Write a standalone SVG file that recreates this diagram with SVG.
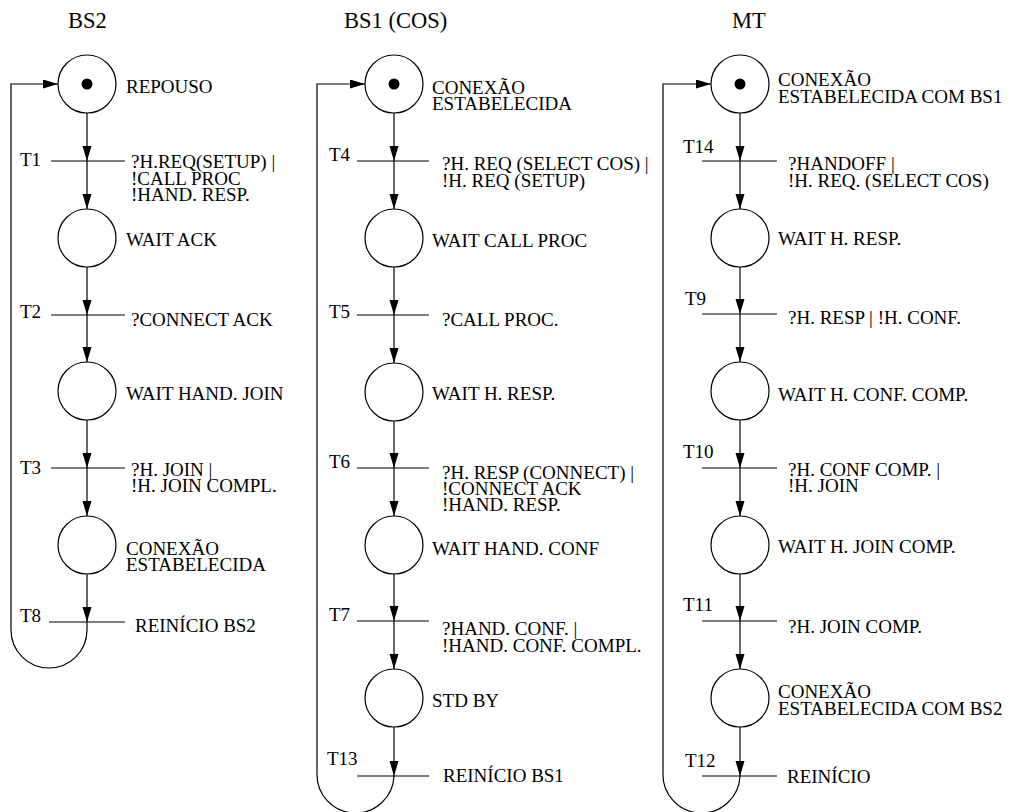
<svg xmlns="http://www.w3.org/2000/svg" width="1010" height="812" viewBox="0 0 1010 812">
  <defs>
    <marker id="arrow" markerUnits="userSpaceOnUse" markerWidth="16" markerHeight="10" refX="15" refY="4.5" orient="auto">
      <path d="M0,0 L15,4.5 L0,9 z" fill="#000"/>
    </marker>
  </defs>
  <style>
    text { font-family: "Liberation Serif", "Times New Roman", serif; font-size: 19px; fill: #000; }
    .title { font-size: 22.5px; }
    .place { fill: #fff; stroke: #000; stroke-width: 1.2; }
    .token { fill: #000; }
    .trans { stroke: #000; stroke-width: 1.1; }
    .arc { fill: none; stroke: #000; stroke-width: 1.2; marker-end: url(#arrow); }
    .loop { fill: none; stroke: #000; stroke-width: 1.2; }
  </style>
  <rect width="1010" height="812" fill="#fff"/>

  <!-- column titles -->
  <g id="titles">
    <text class="title" x="68" y="28">BS2</text>
    <text class="title" x="344" y="28">BS1 (COS)</text>
    <text class="title" x="732" y="28">MT</text>
  </g>

  <!-- connectors: arcs between places and transitions, plus return loops -->
  <g id="connectors">
    <!-- BS2 -->
    <path class="arc" d="M87,113 V161"/>
    <path class="arc" d="M87,161 V209"/>
    <path class="arc" d="M87,267 V315"/>
    <path class="arc" d="M87,315 V362"/>
    <path class="arc" d="M87,420 V468"/>
    <path class="arc" d="M87,468 V516"/>
    <path class="arc" d="M87,574 V622"/>
    <path class="arc" d="M87,622 V630 A38,38 0 0 1 11,630 V84 H58"/>
    <!-- BS1 (COS) -->
    <path class="arc" d="M394,113 V161"/>
    <path class="arc" d="M394,161 V209"/>
    <path class="arc" d="M394,267 V315"/>
    <path class="arc" d="M394,315 V363"/>
    <path class="arc" d="M394,421 V468"/>
    <path class="arc" d="M394,468 V516"/>
    <path class="arc" d="M394,574 V621"/>
    <path class="arc" d="M394,621 V669"/>
    <path class="arc" d="M394,727 V776"/>
    <path class="arc" d="M394,776 A38.5,38.5 0 0 1 317,773 V84 H365"/>
    <!-- MT -->
    <path class="arc" d="M740,113 V161"/>
    <path class="arc" d="M740,161 V209"/>
    <path class="arc" d="M740,267 V314"/>
    <path class="arc" d="M740,314 V362"/>
    <path class="arc" d="M740,420 V468"/>
    <path class="arc" d="M740,468 V516"/>
    <path class="arc" d="M740,574 V621"/>
    <path class="arc" d="M740,621 V669"/>
    <path class="arc" d="M740,727 V776"/>
    <path class="arc" d="M740,776 A38.5,38.5 0 0 1 663,773 V84 H711"/>
  </g>

  <!-- BS2 places -->
  <g id="bs2-repouso">
    <circle class="place" cx="87" cy="84" r="29"/>
    <circle class="token" cx="87" cy="84" r="5.5"/>
    <text x="126" y="93">REPOUSO</text>
  </g>
  <g id="bs2-wait-ack">
    <circle class="place" cx="87" cy="238" r="29"/>
    <text x="126" y="246">WAIT ACK</text>
  </g>
  <g id="bs2-wait-hand-join">
    <circle class="place" cx="87" cy="391" r="29"/>
    <text x="126" y="400">WAIT HAND. JOIN</text>
  </g>
  <g id="bs2-conexao">
    <circle class="place" cx="87" cy="545" r="29"/>
    <text x="126" y="555">CONEXÃO</text>
    <text x="126" y="571">ESTABELECIDA</text>
  </g>

  <!-- BS2 transitions -->
  <g id="bs2-t1">
    <line class="trans" x1="51" y1="161" x2="125" y2="161"/>
    <text x="20" y="166">T1</text>
    <text x="131" y="168">?H.REQ(SETUP) |</text>
    <text x="131" y="184.5">!CALL PROC</text>
    <text x="131" y="201">!HAND. RESP.</text>
  </g>
  <g id="bs2-t2">
    <line class="trans" x1="51" y1="315" x2="125" y2="315"/>
    <text x="20" y="318">T2</text>
    <text x="131" y="326">?CONNECT ACK</text>
  </g>
  <g id="bs2-t3">
    <line class="trans" x1="51" y1="468" x2="125" y2="468"/>
    <text x="20" y="474">T3</text>
    <text x="131" y="476">?H. JOIN |</text>
    <text x="131" y="492">!H. JOIN COMPL.</text>
  </g>
  <g id="bs2-t8">
    <line class="trans" x1="49" y1="622" x2="125" y2="622"/>
    <text x="20" y="622">T8</text>
    <text x="135" y="632">REINÍCIO BS2</text>
  </g>

  <!-- BS1 (COS) places -->
  <g id="bs1-conexao">
    <circle class="place" cx="394" cy="84" r="29"/>
    <circle class="token" cx="394" cy="84" r="5.5"/>
    <text x="432" y="94">CONEXÃO</text>
    <text x="432" y="110">ESTABELECIDA</text>
  </g>
  <g id="bs1-wait-call-proc">
    <circle class="place" cx="394" cy="238" r="29"/>
    <text x="432" y="247">WAIT CALL PROC</text>
  </g>
  <g id="bs1-wait-h-resp">
    <circle class="place" cx="394" cy="392" r="29"/>
    <text x="432" y="400">WAIT H. RESP.</text>
  </g>
  <g id="bs1-wait-hand-conf">
    <circle class="place" cx="394" cy="545" r="29"/>
    <text x="432" y="555">WAIT HAND. CONF</text>
  </g>
  <g id="bs1-std-by">
    <circle class="place" cx="394" cy="698" r="29"/>
    <text x="432" y="707">STD BY</text>
  </g>

  <!-- BS1 (COS) transitions -->
  <g id="bs1-t4">
    <line class="trans" x1="357" y1="161" x2="429" y2="161"/>
    <text x="329" y="161">T4</text>
    <text x="442" y="170">?H. REQ (SELECT COS) |</text>
    <text x="442" y="186.5">!H. REQ (SETUP)</text>
  </g>
  <g id="bs1-t5">
    <line class="trans" x1="357" y1="315" x2="429" y2="315"/>
    <text x="329" y="318">T5</text>
    <text x="442" y="326">?CALL PROC.</text>
  </g>
  <g id="bs1-t6">
    <line class="trans" x1="357" y1="468" x2="429" y2="468"/>
    <text x="329" y="468">T6</text>
    <text x="442" y="479">?H. RESP (CONNECT) |</text>
    <text x="442" y="495">!CONNECT ACK</text>
    <text x="442" y="511">!HAND. RESP.</text>
  </g>
  <g id="bs1-t7">
    <line class="trans" x1="357" y1="621" x2="429" y2="621"/>
    <text x="329" y="621">T7</text>
    <text x="442" y="635">?HAND. CONF. |</text>
    <text x="442" y="651.5">!HAND. CONF. COMPL.</text>
  </g>
  <g id="bs1-t13">
    <line class="trans" x1="357" y1="776" x2="429" y2="776"/>
    <text x="327" y="765">T13</text>
    <text x="443" y="782">REINÍCIO BS1</text>
  </g>

  <!-- MT places -->
  <g id="mt-conexao-bs1">
    <circle class="place" cx="740" cy="84" r="29"/>
    <circle class="token" cx="740" cy="84" r="5.5"/>
    <text x="778" y="86">CONEXÃO</text>
    <text x="778" y="102.5">ESTABELECIDA COM BS1</text>
  </g>
  <g id="mt-wait-h-resp">
    <circle class="place" cx="740" cy="238" r="29"/>
    <text x="778" y="245">WAIT H. RESP.</text>
  </g>
  <g id="mt-wait-h-conf-comp">
    <circle class="place" cx="740" cy="391" r="29"/>
    <text x="778" y="400.5">WAIT H. CONF. COMP.</text>
  </g>
  <g id="mt-wait-h-join-comp">
    <circle class="place" cx="740" cy="545" r="29"/>
    <text x="778" y="553">WAIT H. JOIN COMP.</text>
  </g>
  <g id="mt-conexao-bs2">
    <circle class="place" cx="740" cy="698" r="29"/>
    <text x="778" y="698">CONEXÃO</text>
    <text x="778" y="715">ESTABELECIDA COM BS2</text>
  </g>

  <!-- MT transitions -->
  <g id="mt-t14">
    <line class="trans" x1="702" y1="161" x2="777" y2="161"/>
    <text x="683" y="153">T14</text>
    <text x="788" y="170">?HANDOFF |</text>
    <text x="788" y="186.5">!H. REQ. (SELECT COS)</text>
  </g>
  <g id="mt-t9">
    <line class="trans" x1="702" y1="314" x2="777" y2="314"/>
    <text x="685" y="305">T9</text>
    <text x="788" y="324">?H. RESP | !H. CONF.</text>
  </g>
  <g id="mt-t10">
    <line class="trans" x1="702" y1="468" x2="777" y2="468"/>
    <text x="683" y="458">T10</text>
    <text x="788" y="476">?H. CONF COMP. |</text>
    <text x="788" y="492">!H. JOIN</text>
  </g>
  <g id="mt-t11">
    <line class="trans" x1="702" y1="621" x2="777" y2="621"/>
    <text x="683" y="611">T11</text>
    <text x="788" y="633">?H. JOIN COMP.</text>
  </g>
  <g id="mt-t12">
    <line class="trans" x1="702" y1="776" x2="777" y2="776"/>
    <text x="685" y="767">T12</text>
    <text x="787" y="783">REINÍCIO</text>
  </g>
</svg>
